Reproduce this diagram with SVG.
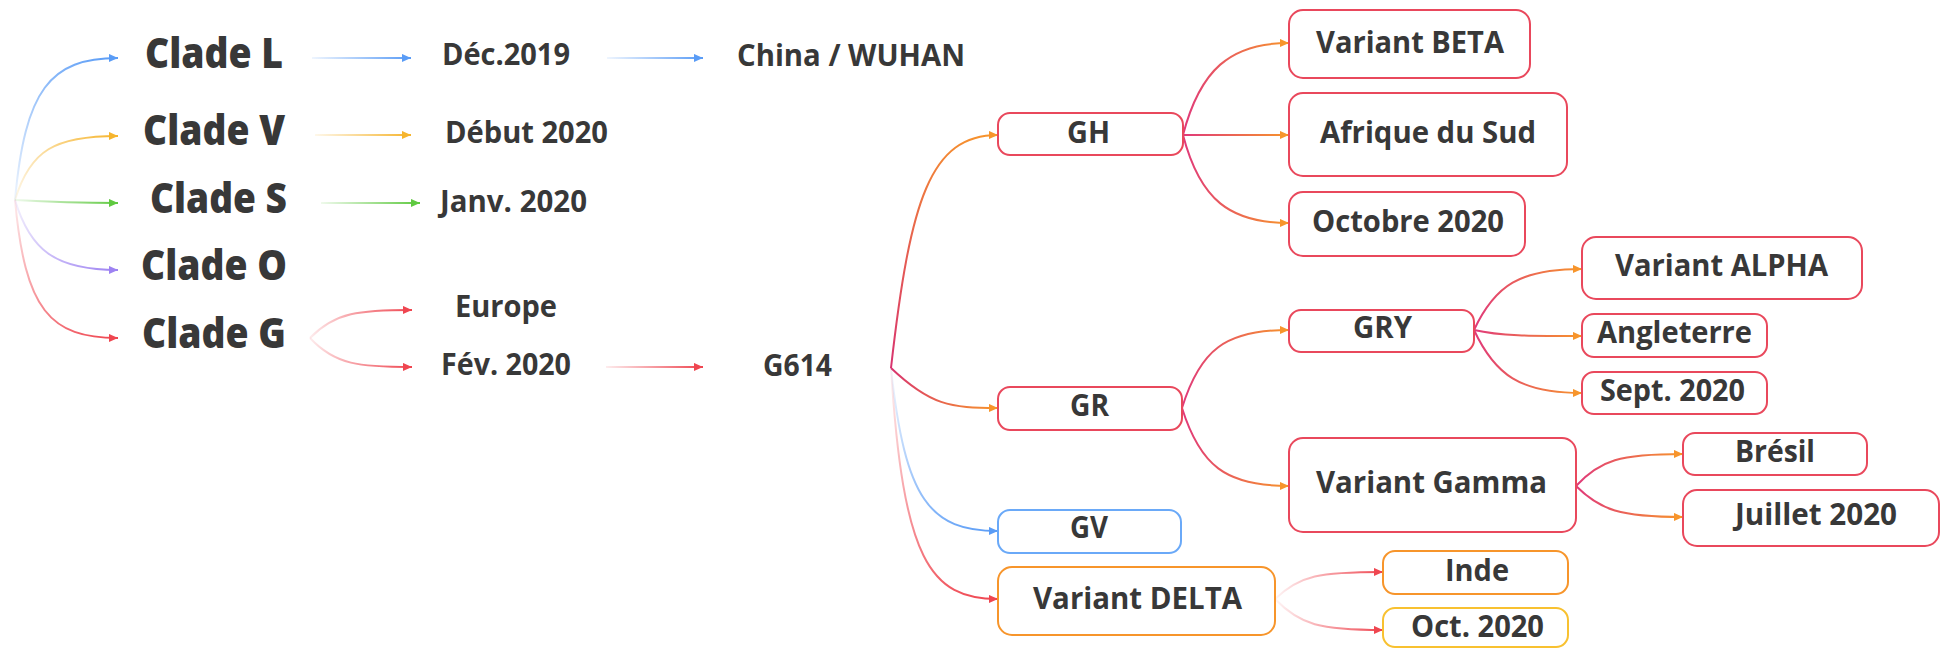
<svg xmlns="http://www.w3.org/2000/svg" width="1941" height="649" viewBox="0 0 1941 649">
<style>
  .t{font-family:"Open Sans","Noto Sans","Liberation Sans",sans-serif;font-weight:700;fill:#383838;text-anchor:middle}
  .big{font-size:43px;font-weight:800}
  .mid{font-size:31px}
  .lbl{font-size:30px}
  .box{fill:#ffffff;stroke-width:2}
  .br{stroke:#e9485c}
  .bb{stroke:#6aa9f8}
  .bo{stroke:#f7952b}
  .by{stroke:#f8c130}
  .c{fill:none;stroke-width:2}
</style>
<defs>
  <marker id="m-blue" viewBox="0 0 10 10" refX="10" refY="5" markerWidth="9" markerHeight="9" markerUnits="userSpaceOnUse" orient="auto"><path d="M0,0.5 L10,5 L0,9.5 z" fill="#5a9cf6"/></marker>
  <marker id="m-yellow" viewBox="0 0 10 10" refX="10" refY="5" markerWidth="9" markerHeight="9" markerUnits="userSpaceOnUse" orient="auto"><path d="M0,0.5 L10,5 L0,9.5 z" fill="#f6b52e"/></marker>
  <marker id="m-green" viewBox="0 0 10 10" refX="10" refY="5" markerWidth="9" markerHeight="9" markerUnits="userSpaceOnUse" orient="auto"><path d="M0,0.5 L10,5 L0,9.5 z" fill="#5fc940"/></marker>
  <marker id="m-purple" viewBox="0 0 10 10" refX="10" refY="5" markerWidth="9" markerHeight="9" markerUnits="userSpaceOnUse" orient="auto"><path d="M0,0.5 L10,5 L0,9.5 z" fill="#9d82f2"/></marker>
  <marker id="m-red" viewBox="0 0 10 10" refX="10" refY="5" markerWidth="9" markerHeight="9" markerUnits="userSpaceOnUse" orient="auto"><path d="M0,0.5 L10,5 L0,9.5 z" fill="#ef4650"/></marker>
  <marker id="m-orange" viewBox="0 0 10 10" refX="10" refY="5" markerWidth="9" markerHeight="9" markerUnits="userSpaceOnUse" orient="auto"><path d="M0,0.5 L10,5 L0,9.5 z" fill="#f7952b"/></marker>

  <!-- clade fan -->
  <linearGradient id="g-L" gradientUnits="userSpaceOnUse" x1="15" y1="200" x2="118" y2="58"><stop offset="0" stop-color="#5a9cf6" stop-opacity="0.1"/><stop offset="1" stop-color="#5a9cf6"/></linearGradient>
  <linearGradient id="g-V" gradientUnits="userSpaceOnUse" x1="15" y1="200" x2="118" y2="136"><stop offset="0" stop-color="#f6b52e" stop-opacity="0.1"/><stop offset="1" stop-color="#f6b52e"/></linearGradient>
  <linearGradient id="g-S" gradientUnits="userSpaceOnUse" x1="15" y1="200" x2="118" y2="203"><stop offset="0" stop-color="#5fc940" stop-opacity="0.1"/><stop offset="1" stop-color="#5fc940"/></linearGradient>
  <linearGradient id="g-O" gradientUnits="userSpaceOnUse" x1="15" y1="200" x2="118" y2="270"><stop offset="0" stop-color="#9d82f2" stop-opacity="0.1"/><stop offset="1" stop-color="#9d82f2"/></linearGradient>
  <linearGradient id="g-G" gradientUnits="userSpaceOnUse" x1="15" y1="200" x2="118" y2="338"><stop offset="0" stop-color="#ef4650" stop-opacity="0.1"/><stop offset="1" stop-color="#ef4650"/></linearGradient>
  <!-- straight rows -->
  <linearGradient id="g-L1" gradientUnits="userSpaceOnUse" x1="312" y1="58" x2="411" y2="58"><stop offset="0" stop-color="#5a9cf6" stop-opacity="0.1"/><stop offset="1" stop-color="#5a9cf6"/></linearGradient>
  <linearGradient id="g-L2" gradientUnits="userSpaceOnUse" x1="607" y1="58" x2="703" y2="58"><stop offset="0" stop-color="#5a9cf6" stop-opacity="0.1"/><stop offset="1" stop-color="#5a9cf6"/></linearGradient>
  <linearGradient id="g-V1" gradientUnits="userSpaceOnUse" x1="315" y1="135" x2="411" y2="135"><stop offset="0" stop-color="#f6b52e" stop-opacity="0.1"/><stop offset="1" stop-color="#f6b52e"/></linearGradient>
  <linearGradient id="g-S1" gradientUnits="userSpaceOnUse" x1="321" y1="203" x2="420" y2="203"><stop offset="0" stop-color="#5fc940" stop-opacity="0.1"/><stop offset="1" stop-color="#5fc940"/></linearGradient>
  <linearGradient id="g-G1" gradientUnits="userSpaceOnUse" x1="310" y1="338" x2="412" y2="310"><stop offset="0" stop-color="#ef4650" stop-opacity="0.1"/><stop offset="1" stop-color="#ef4650"/></linearGradient>
  <linearGradient id="g-G2" gradientUnits="userSpaceOnUse" x1="310" y1="338" x2="412" y2="367"><stop offset="0" stop-color="#ef4650" stop-opacity="0.1"/><stop offset="1" stop-color="#ef4650"/></linearGradient>
  <linearGradient id="g-G3" gradientUnits="userSpaceOnUse" x1="606" y1="367" x2="703" y2="367"><stop offset="0" stop-color="#ef4650" stop-opacity="0.1"/><stop offset="1" stop-color="#ef4650"/></linearGradient>
  <!-- G614 fan -->
  <linearGradient id="g-GH" gradientUnits="userSpaceOnUse" x1="891" y1="368" x2="998" y2="135"><stop offset="0" stop-color="#d8336f"/><stop offset="1" stop-color="#f7952b"/></linearGradient>
  <linearGradient id="g-GR" gradientUnits="userSpaceOnUse" x1="891" y1="368" x2="998" y2="408"><stop offset="0" stop-color="#d8336f"/><stop offset="1" stop-color="#f7952b"/></linearGradient>
  <linearGradient id="g-GV" gradientUnits="userSpaceOnUse" x1="891" y1="368" x2="998" y2="531"><stop offset="0" stop-color="#5a9cf6" stop-opacity="0.05"/><stop offset="1" stop-color="#5a9cf6"/></linearGradient>
  <linearGradient id="g-DE" gradientUnits="userSpaceOnUse" x1="891" y1="368" x2="998" y2="599"><stop offset="0" stop-color="#ef4650" stop-opacity="0.05"/><stop offset="1" stop-color="#ef4650"/></linearGradient>
  <!-- magenta to orange (horizontal spans) -->
  <linearGradient id="g-GHc" gradientUnits="userSpaceOnUse" x1="1183" y1="0" x2="1289" y2="0"><stop offset="0" stop-color="#e0397a"/><stop offset="1" stop-color="#f7952b"/></linearGradient>
  <linearGradient id="g-GRc" gradientUnits="userSpaceOnUse" x1="1182" y1="0" x2="1289" y2="0"><stop offset="0" stop-color="#e0397a"/><stop offset="1" stop-color="#f7952b"/></linearGradient>
  <linearGradient id="g-GRYc" gradientUnits="userSpaceOnUse" x1="1474" y1="0" x2="1582" y2="0"><stop offset="0" stop-color="#e0397a"/><stop offset="1" stop-color="#f7952b"/></linearGradient>
  <linearGradient id="g-GAc" gradientUnits="userSpaceOnUse" x1="1576" y1="0" x2="1683" y2="0"><stop offset="0" stop-color="#e0397a"/><stop offset="1" stop-color="#f7952b"/></linearGradient>
  <linearGradient id="g-DEc" gradientUnits="userSpaceOnUse" x1="1275" y1="0" x2="1383" y2="0"><stop offset="0" stop-color="#ef4650" stop-opacity="0.05"/><stop offset="1" stop-color="#ef4650"/></linearGradient>
</defs>

<g id="connectors">
  <path class="c" stroke="url(#g-L)" marker-end="url(#m-blue)" d="M15 200 C25 90 50 58 118 58"/>
  <path class="c" stroke="url(#g-V)" marker-end="url(#m-yellow)" d="M15 200 C30 150 55 136 118 136"/>
  <path class="c" stroke="url(#g-S)" marker-end="url(#m-green)" d="M15 200 C50 202 80 203 118 203"/>
  <path class="c" stroke="url(#g-O)" marker-end="url(#m-purple)" d="M15 200 C30 250 55 270 118 270"/>
  <path class="c" stroke="url(#g-G)" marker-end="url(#m-red)" d="M15 200 C25 310 50 338 118 338"/>

  <path class="c" stroke="url(#g-L1)" marker-end="url(#m-blue)" d="M312 58 L411 58"/>
  <path class="c" stroke="url(#g-L2)" marker-end="url(#m-blue)" d="M607 58 L703 58"/>
  <path class="c" stroke="url(#g-V1)" marker-end="url(#m-yellow)" d="M315 135 L411 135"/>
  <path class="c" stroke="url(#g-S1)" marker-end="url(#m-green)" d="M321 203 L420 203"/>
  <path class="c" stroke="url(#g-G1)" marker-end="url(#m-red)" d="M310 338 C335 312 360 310 412 310"/>
  <path class="c" stroke="url(#g-G2)" marker-end="url(#m-red)" d="M310 338 C335 365 360 367 412 367"/>
  <path class="c" stroke="url(#g-G3)" marker-end="url(#m-red)" d="M606 367 L703 367"/>

  <path class="c" stroke="url(#g-GH)" marker-end="url(#m-orange)" d="M891 368 C910 200 930 135 998 135"/>
  <path class="c" stroke="url(#g-GR)" marker-end="url(#m-orange)" d="M891 368 C930 405 950 408 998 408"/>
  <path class="c" stroke="url(#g-GV)" marker-end="url(#m-blue)" d="M891 368 C905 500 930 531 998 531"/>
  <path class="c" stroke="url(#g-DE)" marker-end="url(#m-red)" d="M891 368 C903 560 930 599 998 599"/>

  <path class="c" stroke="url(#g-GHc)" marker-end="url(#m-orange)" d="M1183 135 C1200 70 1230 43 1289 43"/>
  <path class="c" stroke="url(#g-GHc)" marker-end="url(#m-orange)" d="M1183 135 L1289 135"/>
  <path class="c" stroke="url(#g-GHc)" marker-end="url(#m-orange)" d="M1183 135 C1200 200 1230 223 1289 223"/>

  <path class="c" stroke="url(#g-GRc)" marker-end="url(#m-orange)" d="M1182 408 C1200 350 1225 330 1289 330"/>
  <path class="c" stroke="url(#g-GRc)" marker-end="url(#m-orange)" d="M1182 408 C1200 465 1225 486 1289 486"/>

  <path class="c" stroke="url(#g-GRYc)" marker-end="url(#m-orange)" d="M1474 330 C1495 285 1520 269 1582 269"/>
  <path class="c" stroke="url(#g-GRYc)" marker-end="url(#m-orange)" d="M1474 330 C1500 336 1530 336 1582 336"/>
  <path class="c" stroke="url(#g-GRYc)" marker-end="url(#m-orange)" d="M1474 330 C1495 375 1520 393 1582 393"/>

  <path class="c" stroke="url(#g-GAc)" marker-end="url(#m-orange)" d="M1576 486 C1600 460 1620 454 1683 454"/>
  <path class="c" stroke="url(#g-GAc)" marker-end="url(#m-orange)" d="M1576 486 C1600 510 1620 517 1683 517"/>

  <path class="c" stroke="url(#g-DEc)" marker-end="url(#m-red)" d="M1275 599 C1300 575 1320 572 1383 572"/>
  <path class="c" stroke="url(#g-DEc)" marker-end="url(#m-red)" d="M1275 599 C1300 625 1320 630 1383 630"/>
</g>

<g id="clade-l"><text class="t big" x="214" y="68" textLength="138" lengthAdjust="spacingAndGlyphs">Clade L</text></g>
<g id="clade-v"><text class="t big" x="214" y="145" textLength="142" lengthAdjust="spacingAndGlyphs">Clade V</text></g>
<g id="clade-s"><text class="t big" x="218.5" y="213" textLength="137" lengthAdjust="spacingAndGlyphs">Clade S</text></g>
<g id="clade-o"><text class="t big" x="214" y="280" textLength="146" lengthAdjust="spacingAndGlyphs">Clade O</text></g>
<g id="clade-g"><text class="t big" x="214" y="348" textLength="144" lengthAdjust="spacingAndGlyphs">Clade G</text></g>

<g id="dec2019"><text class="t mid" x="506" y="65" textLength="128" lengthAdjust="spacingAndGlyphs">Déc.2019</text></g>
<g id="china"><text class="t mid" x="851" y="66" textLength="228" lengthAdjust="spacingAndGlyphs">China / WUHAN</text></g>
<g id="debut2020"><text class="t mid" x="526.5" y="143" textLength="163" lengthAdjust="spacingAndGlyphs">Début 2020</text></g>
<g id="janv2020"><text class="t mid" x="513.5" y="212" textLength="147" lengthAdjust="spacingAndGlyphs">Janv. 2020</text></g>
<g id="europe"><text class="t mid" x="506" y="317" textLength="102" lengthAdjust="spacingAndGlyphs">Europe</text></g>
<g id="fev2020"><text class="t mid" x="506" y="375" textLength="130" lengthAdjust="spacingAndGlyphs">Fév. 2020</text></g>
<g id="g614"><text class="t mid" x="797.5" y="376" textLength="69" lengthAdjust="spacingAndGlyphs">G614</text></g>

<g id="gh"><rect class="box br" x="998" y="113" width="185" height="42" rx="12"/><text class="t lbl" x="1088.5" y="143" textLength="43" lengthAdjust="spacingAndGlyphs">GH</text></g>
<g id="beta"><rect class="box br" x="1289" y="10" width="241" height="68" rx="14"/><text class="t lbl" x="1410" y="53" textLength="188" lengthAdjust="spacingAndGlyphs">Variant BETA</text></g>
<g id="afrique"><rect class="box br" x="1289" y="93" width="278" height="83" rx="14"/><text class="t lbl" x="1428" y="143" textLength="216" lengthAdjust="spacingAndGlyphs">Afrique du Sud</text></g>
<g id="octobre2020"><rect class="box br" x="1289" y="192" width="236" height="64" rx="14"/><text class="t lbl" x="1408" y="232" textLength="192" lengthAdjust="spacingAndGlyphs">Octobre 2020</text></g>

<g id="gr"><rect class="box br" x="998" y="387" width="184" height="43" rx="12"/><text class="t lbl" x="1089.5" y="416" textLength="39" lengthAdjust="spacingAndGlyphs">GR</text></g>
<g id="gry"><rect class="box br" x="1289" y="310" width="185" height="42" rx="12"/><text class="t lbl" x="1382.5" y="338" textLength="59" lengthAdjust="spacingAndGlyphs">GRY</text></g>
<g id="alpha"><rect class="box br" x="1582" y="237" width="280" height="62" rx="14"/><text class="t lbl" x="1721.5" y="276" textLength="213" lengthAdjust="spacingAndGlyphs">Variant ALPHA</text></g>
<g id="angleterre"><rect class="box br" x="1582" y="314" width="185" height="43" rx="12"/><text class="t lbl" x="1674.5" y="343" textLength="155" lengthAdjust="spacingAndGlyphs">Angleterre</text></g>
<g id="sept2020"><rect class="box br" x="1582" y="372" width="185" height="42" rx="12"/><text class="t lbl" x="1672.5" y="401" textLength="145" lengthAdjust="spacingAndGlyphs">Sept. 2020</text></g>
<g id="gamma"><rect class="box br" x="1289" y="438" width="287" height="94" rx="14"/><text class="t lbl" x="1431.5" y="493" textLength="231" lengthAdjust="spacingAndGlyphs">Variant Gamma</text></g>
<g id="bresil"><rect class="box br" x="1683" y="433" width="184" height="42" rx="12"/><text class="t lbl" x="1775" y="462" textLength="80" lengthAdjust="spacingAndGlyphs">Brésil</text></g>
<g id="juillet2020"><rect class="box br" x="1683" y="490" width="256" height="56" rx="14"/><text class="t lbl" x="1816" y="525" textLength="162" lengthAdjust="spacingAndGlyphs">Juillet 2020</text></g>

<g id="gv"><rect class="box bb" x="998" y="510" width="183" height="43" rx="12"/><text class="t lbl" x="1089" y="538" textLength="38" lengthAdjust="spacingAndGlyphs">GV</text></g>
<g id="delta"><rect class="box bo" x="998" y="567" width="277" height="68" rx="14"/><text class="t lbl" x="1137.5" y="609" textLength="209" lengthAdjust="spacingAndGlyphs">Variant DELTA</text></g>
<g id="inde"><rect class="box bo" x="1383" y="551" width="185" height="43" rx="12"/><text class="t lbl" x="1477" y="581" textLength="64" lengthAdjust="spacingAndGlyphs">Inde</text></g>
<g id="oct2020"><rect class="box by" x="1383" y="608" width="185" height="39" rx="12"/><text class="t lbl" x="1477.5" y="637" textLength="133" lengthAdjust="spacingAndGlyphs">Oct. 2020</text></g>
</svg>
